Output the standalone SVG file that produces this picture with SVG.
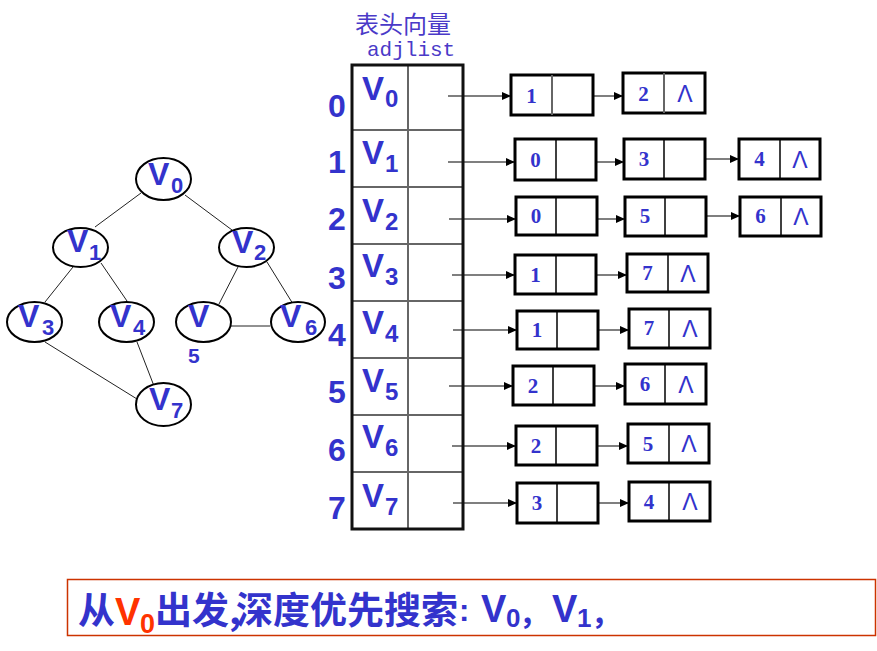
<svg xmlns="http://www.w3.org/2000/svg" width="877" height="651" viewBox="0 0 877 651">
<style>
.v{font-family:"Liberation Sans",Arial,sans-serif;font-weight:bold;fill:#3333CC}
.gv{font-size:32px}
.gs{font-size:22px}
.tv{font-size:33px}
.ts{font-size:24px}
.idx{font-family:"Liberation Sans",Arial,sans-serif;font-weight:bold;fill:#3333CC;font-size:32px;text-anchor:middle}
.ell{fill:#fff;stroke:#000;stroke-width:2}
.edge{stroke:#222;stroke-width:1;fill:none}
.arr{stroke:#000;stroke-width:1.2;fill:none;marker-end:url(#ah)}
.box{fill:#fff;stroke:#000;stroke-width:3}
.div{stroke:#000;stroke-width:1.5}
.num{font-family:"Liberation Serif","Times New Roman",serif;font-weight:bold;font-size:21px;fill:#3333CC;text-anchor:middle}
.nul{font-family:"Liberation Sans",Arial,sans-serif;font-weight:normal;font-size:23px;fill:#3333CC;text-anchor:middle}
.cell{stroke:#666;stroke-width:2}
.cjk{font-family:"Noto Sans CJK SC",sans-serif;font-weight:bold;font-size:37px;fill:#3333CC}
</style>
<defs>
<marker id="ah" markerUnits="userSpaceOnUse" markerWidth="10" markerHeight="8" refX="9" refY="4" orient="auto">
<path d="M0,0 L9,4 L0,8 z" fill="#000"/>
</marker>
</defs>
<rect width="877" height="651" fill="#fff"/>

<g id="connectors">
<line class="edge" x1="141" y1="193" x2="95" y2="227"/>
<line class="edge" x1="185" y1="195" x2="232" y2="230"/>
<line class="edge" x1="73" y1="267" x2="45" y2="302"/>
<line class="edge" x1="101" y1="263" x2="127" y2="301"/>
<line class="edge" x1="238" y1="267" x2="219" y2="304"/>
<line class="edge" x1="267" y1="262" x2="293" y2="304"/>
<line class="edge" x1="231" y1="326" x2="270" y2="326"/>
<line class="edge" x1="45" y1="342" x2="137" y2="399"/>
<line class="edge" x1="137" y1="342" x2="154" y2="386"/>

<line class="arr" x1="448" y1="96" x2="511" y2="96"/>
<line class="arr" x1="577" y1="96" x2="623" y2="96"/>
<line class="arr" x1="448" y1="162" x2="515" y2="162"/>
<line class="arr" x1="578" y1="162" x2="624" y2="162"/>
<line class="arr" x1="685" y1="159" x2="739" y2="159"/>
<line class="arr" x1="449" y1="219" x2="516" y2="219"/>
<line class="arr" x1="578" y1="219" x2="625" y2="219"/>
<line class="arr" x1="686" y1="216" x2="740" y2="216"/>
<line class="arr" x1="452" y1="275" x2="515" y2="275"/>
<line class="arr" x1="579" y1="275" x2="627" y2="275"/>
<line class="arr" x1="453" y1="330" x2="517" y2="330"/>
<line class="arr" x1="581" y1="330" x2="629" y2="330"/>
<line class="arr" x1="449" y1="386" x2="513" y2="386"/>
<line class="arr" x1="577" y1="386" x2="625" y2="386"/>
<line class="arr" x1="452" y1="446" x2="516" y2="446"/>
<line class="arr" x1="580" y1="446" x2="628" y2="446"/>
<line class="arr" x1="453" y1="503" x2="517" y2="503"/>
<line class="arr" x1="581" y1="503" x2="629" y2="503"/>
</g>

<g id="graph-V0"><ellipse class="ell" cx="163.5" cy="179" rx="27.5" ry="21"/><text class="v gv" x="148" y="185">V</text><text class="v gs" x="171" y="193">0</text></g>
<g id="graph-V1"><ellipse class="ell" cx="80.5" cy="247.5" rx="27.5" ry="19.5"/><text class="v gv" x="67" y="252">V</text><text class="v gs" x="89" y="260">1</text></g>
<g id="graph-V2"><ellipse class="ell" cx="246.5" cy="247.5" rx="27.5" ry="19.5"/><text class="v gv" x="232" y="253">V</text><text class="v gs" x="254" y="260">2</text></g>
<g id="graph-V3"><ellipse class="ell" cx="34.5" cy="322" rx="27.5" ry="20"/><text class="v gv" x="18" y="327">V</text><text class="v gs" x="42" y="335">3</text></g>
<g id="graph-V4"><ellipse class="ell" cx="126.5" cy="322" rx="27.5" ry="20"/><text class="v gv" x="110" y="327">V</text><text class="v gs" x="133" y="335">4</text></g>
<g id="graph-V5"><ellipse class="ell" cx="203.5" cy="322" rx="27.5" ry="20"/><text class="v gv" x="188" y="327">V</text><text class="v" style="font-size:21px" x="188" y="363">5</text></g>
<g id="graph-V6"><ellipse class="ell" cx="298" cy="322" rx="27" ry="20"/><text class="v gv" x="280" y="327">V</text><text class="v gs" x="305" y="335">6</text></g>
<g id="graph-V7"><ellipse class="ell" cx="163.5" cy="404.5" rx="27.5" ry="21.5"/><text class="v gv" x="149" y="410">V</text><text class="v gs" x="171" y="418">7</text></g>

<g id="adjlist-title">
<text x="355" y="33" style="font-family:'Noto Sans CJK SC',sans-serif;font-size:24px;fill:#4A3AC8">表头向量</text>
<text x="367" y="56" style="font-family:'Liberation Mono','Courier New',monospace;font-size:21px;fill:#4A3AC8">adjlist</text>
</g>

<g id="adjlist-table">
<line class="cell" x1="408" y1="65" x2="408" y2="529"/>
<line class="cell" x1="352" y1="130" x2="463" y2="130"/>
<line class="cell" x1="352" y1="187" x2="463" y2="187"/>
<line class="cell" x1="352" y1="244" x2="463" y2="244"/>
<line class="cell" x1="352" y1="301" x2="463" y2="301"/>
<line class="cell" x1="352" y1="358" x2="463" y2="358"/>
<line class="cell" x1="352" y1="415" x2="463" y2="415"/>
<line class="cell" x1="352" y1="472" x2="463" y2="472"/>
<rect x="352" y="65" width="111" height="464" fill="none" stroke="#111" stroke-width="3"/>
<text class="idx" x="337" y="117">0</text>
<text class="idx" x="337" y="173">1</text>
<text class="idx" x="337" y="230">2</text>
<text class="idx" x="337" y="289">3</text>
<text class="idx" x="337" y="346">4</text>
<text class="idx" x="337" y="403">5</text>
<text class="idx" x="337" y="461">6</text>
<text class="idx" x="337" y="519">7</text>
<text class="v tv" x="362" y="100">V</text><text class="v ts" x="385" y="107">0</text>
<text class="v tv" x="362" y="164">V</text><text class="v ts" x="385" y="172">1</text>
<text class="v tv" x="362" y="222">V</text><text class="v ts" x="385" y="230">2</text>
<text class="v tv" x="362" y="277">V</text><text class="v ts" x="385" y="285">3</text>
<text class="v tv" x="362" y="334">V</text><text class="v ts" x="385" y="342">4</text>
<text class="v tv" x="362" y="392">V</text><text class="v ts" x="385" y="400">5</text>
<text class="v tv" x="362" y="448">V</text><text class="v ts" x="385" y="456">6</text>
<text class="v tv" x="362" y="507">V</text><text class="v ts" x="385" y="515">7</text>
</g>

<g id="row0-n1"><rect class="box" x="511" y="75" width="82" height="40"/><line class="cell" x1="552" y1="75" x2="552" y2="115"/><text class="num" x="531.5" y="103">1</text></g>
<g id="row0-n2"><rect class="box" x="623" y="73" width="82" height="40"/><line class="cell" x1="664" y1="73" x2="664" y2="113"/><text class="num" x="643.5" y="101">2</text><text class="nul" x="685" y="102">Λ</text></g>

<g id="row1-n1"><rect class="box" x="515" y="139" width="81" height="41"/><line class="div" x1="556" y1="139" x2="556" y2="180"/><text class="num" x="535.5" y="167">0</text></g>
<g id="row1-n2"><rect class="box" x="624" y="139" width="81" height="40"/><line class="div" x1="664" y1="139" x2="664" y2="179"/><text class="num" x="644" y="166">3</text></g>
<g id="row1-n3"><rect class="box" x="739" y="139" width="81" height="40"/><line class="div" x1="780" y1="139" x2="780" y2="179"/><text class="num" x="759.5" y="166">4</text><text class="nul" x="800" y="168">Λ</text></g>

<g id="row2-n1"><rect class="box" x="516" y="197" width="81" height="38"/><line class="div" x1="556" y1="197" x2="556" y2="235"/><text class="num" x="536" y="223">0</text></g>
<g id="row2-n2"><rect class="box" x="625" y="197" width="81" height="39"/><line class="div" x1="665" y1="197" x2="665" y2="236"/><text class="num" x="645" y="223">5</text></g>
<g id="row2-n3"><rect class="box" x="740" y="197" width="81" height="39"/><line class="div" x1="781" y1="197" x2="781" y2="236"/><text class="num" x="760.5" y="223">6</text><text class="nul" x="801" y="225">Λ</text></g>

<g id="row3-n1"><rect class="box" x="515" y="255" width="81" height="39"/><line class="div" x1="556" y1="255" x2="556" y2="294"/><text class="num" x="535.5" y="282">1</text></g>
<g id="row3-n2"><rect class="box" x="627" y="254" width="81" height="38"/><line class="div" x1="668" y1="254" x2="668" y2="292"/><text class="num" x="647.5" y="280">7</text><text class="nul" x="688" y="282">Λ</text></g>

<g id="row4-n1"><rect class="box" x="517" y="311" width="81" height="38"/><line class="div" x1="557" y1="311" x2="557" y2="349"/><text class="num" x="537" y="337">1</text></g>
<g id="row4-n2"><rect class="box" x="629" y="309" width="81" height="39"/><line class="div" x1="669" y1="309" x2="669" y2="348"/><text class="num" x="649" y="335">7</text><text class="nul" x="690" y="337">Λ</text></g>

<g id="row5-n1"><rect class="box" x="513" y="366" width="81" height="39"/><line class="div" x1="553" y1="366" x2="553" y2="405"/><text class="num" x="533" y="393">2</text></g>
<g id="row5-n2"><rect class="box" x="625" y="364" width="81" height="40"/><line class="div" x1="665" y1="364" x2="665" y2="404"/><text class="num" x="645" y="391">6</text><text class="nul" x="686" y="393">Λ</text></g>

<g id="row6-n1"><rect class="box" x="516" y="426" width="81" height="39"/><line class="div" x1="556" y1="426" x2="556" y2="465"/><text class="num" x="536" y="453">2</text></g>
<g id="row6-n2"><rect class="box" x="628" y="424" width="81" height="39"/><line class="div" x1="669" y1="424" x2="669" y2="463"/><text class="num" x="648" y="451">5</text><text class="nul" x="689" y="452">Λ</text></g>

<g id="row7-n1"><rect class="box" x="517" y="483" width="81" height="40"/><line class="div" x1="557" y1="483" x2="557" y2="523"/><text class="num" x="537" y="510">3</text></g>
<g id="row7-n2"><rect class="box" x="629" y="482" width="81" height="39"/><line class="div" x1="669" y1="482" x2="669" y2="521"/><text class="num" x="649" y="509">4</text><text class="nul" x="690" y="510">Λ</text></g>

<g id="caption">
<rect x="67.5" y="579.5" width="808" height="56" fill="#fff" stroke="#CC3300" stroke-width="1.5"/>
<text class="cjk" x="78" y="624">从</text>
<text class="v" x="115" y="625" style="font-size:38px;fill:#FF3300">V</text>
<text class="v" x="140" y="633" style="font-size:27px;fill:#FF3300">0</text>
<text class="cjk" x="155" y="624">出发,</text>
<text class="cjk" x="236" y="624">深度优先搜索</text>
<text class="v" x="459" y="621" style="font-size:31px">:</text>
<text class="v" x="481" y="622" style="font-size:38px">V</text>
<text class="v" x="506" y="627" style="font-size:26px">0</text>
<text class="cjk" x="519" y="624" style="font-size:30px">，</text>
<text class="v" x="552" y="622" style="font-size:38px">V</text>
<text class="v" x="577" y="627" style="font-size:26px">1</text>
<text class="cjk" x="591" y="624" style="font-size:30px">，</text>
</g>
</svg>
